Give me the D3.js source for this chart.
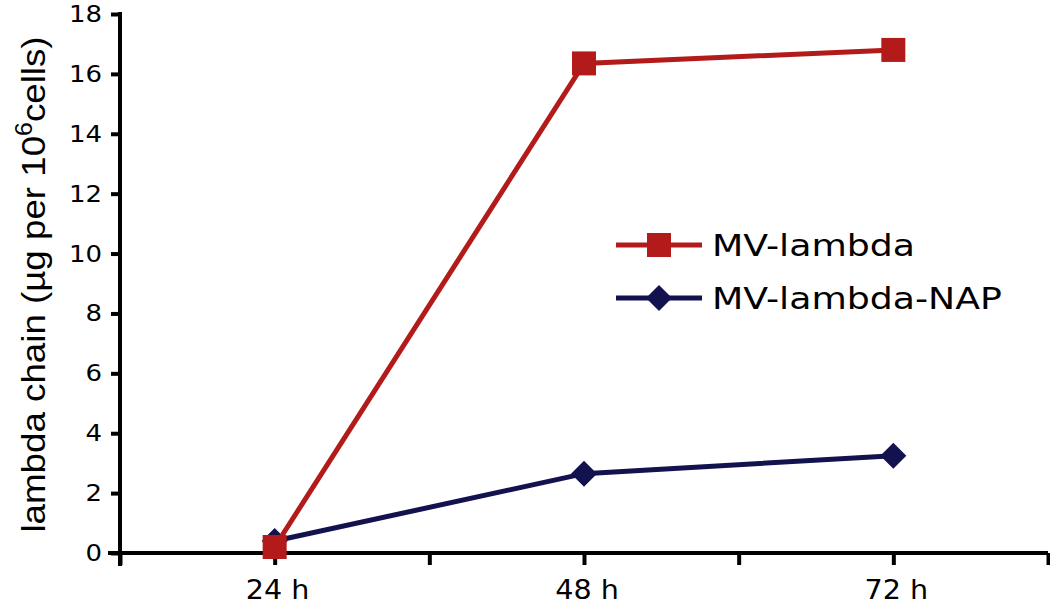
<!DOCTYPE html>
<html>
<head>
<meta charset="utf-8">
<script src="https://cdn.jsdelivr.net/npm/d3@7"></script>
<style>
  html, body { margin: 0; padding: 0; background: #fff; }
  svg { display: block; }
</style>
</head>
<body>
<svg width="1050" height="614"></svg>
<script>
const categories = ["24 h", "48 h", "72 h"];
const mvLambda = [0.2, 16.35, 16.8];
const mvLambdaNap = [0.4, 2.65, 3.25];
const yTicks = [0, 2, 4, 6, 8, 10, 12, 14, 16, 18];

const svg = d3.select("svg");
const margin = { left: 120, right: 2, top: 14, bottom: 61 };
const width = 1050, height = 614;
const labelFont = "DejaVu Sans, Verdana, sans-serif";

const x = d3.scaleLinear()
            .domain([0, categories.length])
            .range([margin.left, width - margin.right]);
const y = d3.scaleLinear()
            .domain([0, 18])
            .range([height - margin.bottom, margin.top]);

const cx = i => x(i + 0.5);

// y axis
const yAxis = svg.append("g")
    .attr("transform", `translate(${margin.left},0)`)
    .call(d3.axisLeft(y).tickValues(yTicks).tickSize(9).tickFormat(""));
yAxis.select(".domain").remove();
yAxis.append("line")
    .attr("x1", 0).attr("x2", 0)
    .attr("y1", y(18) - 2).attr("y2", y(0) + 13)
    .attr("stroke", "#000").attr("stroke-width", 4);
yAxis.selectAll(".tick line").attr("stroke", "#000").attr("stroke-width", 4);

svg.append("g").selectAll("text")
    .data(yTicks)
    .enter()
    .append("text")
    .attr("transform", d => `translate(102,${y(d) + 8}) scale(1.13,1)`)
    .attr("text-anchor", "end")
    .style("font-family", labelFont)
    .style("font-size", "23px")
    .text(d => d);

// x axis (half-category ticks)
const xAxis = svg.append("g")
    .attr("transform", `translate(0,${y(0)})`)
    .call(d3.axisBottom(x)
        .tickValues(d3.range(0, categories.length + 0.01, 0.5))
        .tickSize(12).tickFormat(""));
xAxis.select(".domain").remove();
xAxis.append("line")
    .attr("x1", margin.left - 12).attr("x2", width - margin.right)
    .attr("stroke", "#000").attr("stroke-width", 4);
xAxis.selectAll(".tick line").attr("stroke", "#000").attr("stroke-width", 4);

svg.append("g").selectAll("text")
    .data(categories)
    .enter()
    .append("text")
    .attr("transform", (d, i) => `translate(${cx(i) + 3},${y(0) + 46}) scale(1.06,1)`)
    .attr("text-anchor", "middle")
    .style("font-family", labelFont)
    .style("font-size", "27px")
    .text(d => d);

// y axis title
const title = svg.append("text")
    .attr("transform", `translate(45,${(margin.top + y(0)) / 2 + 1}) rotate(-90) scale(1.08,1)`)
    .attr("text-anchor", "middle")
    .style("font-family", "Liberation Sans, Arial, sans-serif")
    .style("font-size", "34px");
title.append("tspan").text("lambda chain (\u00b5g per 10");
title.append("tspan").attr("dy", -13).style("font-size", "23px").text("6");
title.append("tspan").attr("dy", 13).text("cells)");

const red = "#b31b1b";
const navy = "#12124f";

const line = d3.line().x((d, i) => cx(i)).y(d => y(d));
const diamondPath = "M0,-13L13,0L0,13L-13,0Z";

// navy series
svg.append("path")
    .datum(mvLambdaNap)
    .attr("d", line)
    .attr("fill", "none")
    .attr("stroke", navy)
    .attr("stroke-width", 5);
svg.append("g").selectAll("path")
    .data(mvLambdaNap)
    .enter()
    .append("path")
    .attr("d", diamondPath)
    .attr("transform", (d, i) => `translate(${cx(i)},${y(d)})`)
    .attr("fill", navy);

// red series
svg.append("path")
    .datum(mvLambda)
    .attr("d", line)
    .attr("fill", "none")
    .attr("stroke", red)
    .attr("stroke-width", 5);
svg.append("g").selectAll("rect")
    .data(mvLambda)
    .enter()
    .append("rect")
    .attr("x", (d, i) => cx(i) - 12)
    .attr("y", d => y(d) - 12)
    .attr("width", 24)
    .attr("height", 24)
    .attr("fill", red);

// legend
const legendItems = [
    { name: "MV-lambda", color: red, marker: "square", y: 245 },
    { name: "MV-lambda-NAP", color: navy, marker: "diamond", y: 298 }
];
const legend = svg.append("g").selectAll("g")
    .data(legendItems)
    .enter()
    .append("g")
    .attr("transform", d => `translate(616,${d.y})`);
legend.append("line").attr("x1", 0).attr("x2", 86)
    .attr("stroke", d => d.color).attr("stroke-width", 5);
legend.append("path")
    .attr("d", d => d.marker === "square" ? "M-12,-12H12V12H-12Z" : diamondPath)
    .attr("transform", "translate(43,0)")
    .attr("fill", d => d.color);
legend.append("text")
    .attr("transform", "translate(96,11) scale(1.21,1)")
    .style("font-family", labelFont).style("font-size", "30px")
    .text(d => d.name);
</script>
</body>
</html>
